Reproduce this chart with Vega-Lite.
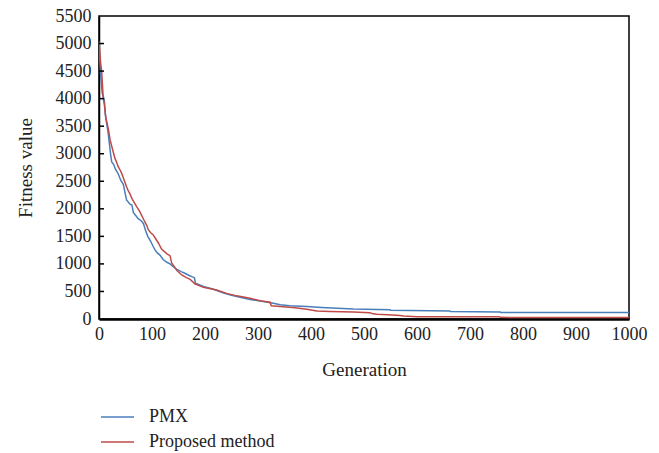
{
  "$schema": "https://vega.github.io/schema/vega-lite/v6.json",
  "width": 530,
  "height": 303,
  "autosize": {"type": "none"},
  "padding": {"left": 99, "top": 16, "right": 30, "bottom": 134},
  "background": "white",
  "config": {
    "view": {"stroke": "black", "strokeWidth": 1.5},
    "font": "Liberation Serif",
    "axis": {
      "labelOverlap": false,
      "labelBound": false,
      "labelFlush": false,
      "grid": false,
      "ticks": false,
      "format": "d",
      "domainColor": "black",
      "labelFont": "Liberation Serif",
      "labelFontSize": 18,
      "labelColor": "#222",
      "titleFont": "Liberation Serif",
      "titleFontSize": 19,
      "titleFontWeight": "normal",
      "titleColor": "#222"
    },
    "axisX": {"domainWidth": 2.5, "labelPadding": 6, "titlePadding": 17},
    "axisY": {"domainWidth": 1.5, "labelPadding": 8, "titlePadding": 20}
  },
  "layer": [
    {
      "data": {
        "values": [
          {"gen": 0, "v": 4950, "s": "PMX"},
          {"gen": 3, "v": 4450, "s": "PMX"},
          {"gen": 6, "v": 4100, "s": "PMX"},
          {"gen": 10, "v": 3980, "s": "PMX"},
          {"gen": 12, "v": 3700, "s": "PMX"},
          {"gen": 14, "v": 3580, "s": "PMX"},
          {"gen": 17, "v": 3400, "s": "PMX"},
          {"gen": 20, "v": 3150, "s": "PMX"},
          {"gen": 22, "v": 2980, "s": "PMX"},
          {"gen": 24, "v": 2850, "s": "PMX"},
          {"gen": 28, "v": 2800, "s": "PMX"},
          {"gen": 31, "v": 2720, "s": "PMX"},
          {"gen": 36, "v": 2640, "s": "PMX"},
          {"gen": 41, "v": 2520, "s": "PMX"},
          {"gen": 46, "v": 2440, "s": "PMX"},
          {"gen": 50, "v": 2250, "s": "PMX"},
          {"gen": 52, "v": 2160, "s": "PMX"},
          {"gen": 58, "v": 2090, "s": "PMX"},
          {"gen": 62, "v": 2070, "s": "PMX"},
          {"gen": 65, "v": 1930, "s": "PMX"},
          {"gen": 70, "v": 1870, "s": "PMX"},
          {"gen": 74, "v": 1820, "s": "PMX"},
          {"gen": 80, "v": 1780, "s": "PMX"},
          {"gen": 84, "v": 1730, "s": "PMX"},
          {"gen": 88, "v": 1600, "s": "PMX"},
          {"gen": 92, "v": 1500, "s": "PMX"},
          {"gen": 97, "v": 1420, "s": "PMX"},
          {"gen": 102, "v": 1320, "s": "PMX"},
          {"gen": 106, "v": 1250, "s": "PMX"},
          {"gen": 110, "v": 1200, "s": "PMX"},
          {"gen": 115, "v": 1160, "s": "PMX"},
          {"gen": 121, "v": 1080, "s": "PMX"},
          {"gen": 128, "v": 1030, "s": "PMX"},
          {"gen": 134, "v": 1000, "s": "PMX"},
          {"gen": 140, "v": 950, "s": "PMX"},
          {"gen": 147, "v": 900, "s": "PMX"},
          {"gen": 155, "v": 860, "s": "PMX"},
          {"gen": 162, "v": 830, "s": "PMX"},
          {"gen": 170, "v": 790, "s": "PMX"},
          {"gen": 175, "v": 770, "s": "PMX"},
          {"gen": 180, "v": 750, "s": "PMX"},
          {"gen": 182, "v": 650, "s": "PMX"},
          {"gen": 197, "v": 590, "s": "PMX"},
          {"gen": 216, "v": 540, "s": "PMX"},
          {"gen": 235, "v": 470, "s": "PMX"},
          {"gen": 250, "v": 430, "s": "PMX"},
          {"gen": 266, "v": 395, "s": "PMX"},
          {"gen": 285, "v": 355, "s": "PMX"},
          {"gen": 304, "v": 325, "s": "PMX"},
          {"gen": 329, "v": 285, "s": "PMX"},
          {"gen": 342, "v": 260, "s": "PMX"},
          {"gen": 360, "v": 240, "s": "PMX"},
          {"gen": 392, "v": 225, "s": "PMX"},
          {"gen": 420, "v": 210, "s": "PMX"},
          {"gen": 450, "v": 195, "s": "PMX"},
          {"gen": 480, "v": 180, "s": "PMX"},
          {"gen": 549, "v": 168, "s": "PMX"},
          {"gen": 550, "v": 157, "s": "PMX"},
          {"gen": 662, "v": 147, "s": "PMX"},
          {"gen": 663, "v": 135, "s": "PMX"},
          {"gen": 757, "v": 127, "s": "PMX"},
          {"gen": 758, "v": 120, "s": "PMX"},
          {"gen": 1000, "v": 120, "s": "PMX"},
          {"gen": 0, "v": 5040, "s": "Proposed method"},
          {"gen": 3, "v": 4650, "s": "Proposed method"},
          {"gen": 5, "v": 4500, "s": "Proposed method"},
          {"gen": 8, "v": 4000, "s": "Proposed method"},
          {"gen": 10, "v": 3900, "s": "Proposed method"},
          {"gen": 13, "v": 3650, "s": "Proposed method"},
          {"gen": 16, "v": 3520, "s": "Proposed method"},
          {"gen": 18, "v": 3430, "s": "Proposed method"},
          {"gen": 21, "v": 3250, "s": "Proposed method"},
          {"gen": 25, "v": 3100, "s": "Proposed method"},
          {"gen": 30, "v": 2920, "s": "Proposed method"},
          {"gen": 33, "v": 2850, "s": "Proposed method"},
          {"gen": 36, "v": 2770, "s": "Proposed method"},
          {"gen": 40, "v": 2700, "s": "Proposed method"},
          {"gen": 43, "v": 2640, "s": "Proposed method"},
          {"gen": 47, "v": 2530, "s": "Proposed method"},
          {"gen": 52, "v": 2400, "s": "Proposed method"},
          {"gen": 55, "v": 2330, "s": "Proposed method"},
          {"gen": 58, "v": 2280, "s": "Proposed method"},
          {"gen": 62, "v": 2190, "s": "Proposed method"},
          {"gen": 66, "v": 2120, "s": "Proposed method"},
          {"gen": 71, "v": 2040, "s": "Proposed method"},
          {"gen": 77, "v": 1950, "s": "Proposed method"},
          {"gen": 84, "v": 1810, "s": "Proposed method"},
          {"gen": 90, "v": 1700, "s": "Proposed method"},
          {"gen": 93, "v": 1620, "s": "Proposed method"},
          {"gen": 98, "v": 1560, "s": "Proposed method"},
          {"gen": 102, "v": 1530, "s": "Proposed method"},
          {"gen": 106, "v": 1470, "s": "Proposed method"},
          {"gen": 112, "v": 1380, "s": "Proposed method"},
          {"gen": 118, "v": 1270, "s": "Proposed method"},
          {"gen": 125, "v": 1210, "s": "Proposed method"},
          {"gen": 128, "v": 1180, "s": "Proposed method"},
          {"gen": 134, "v": 1150, "s": "Proposed method"},
          {"gen": 137, "v": 1020, "s": "Proposed method"},
          {"gen": 142, "v": 950, "s": "Proposed method"},
          {"gen": 147, "v": 880, "s": "Proposed method"},
          {"gen": 156, "v": 800, "s": "Proposed method"},
          {"gen": 165, "v": 750, "s": "Proposed method"},
          {"gen": 172, "v": 720, "s": "Proposed method"},
          {"gen": 181, "v": 640, "s": "Proposed method"},
          {"gen": 197, "v": 575, "s": "Proposed method"},
          {"gen": 222, "v": 525, "s": "Proposed method"},
          {"gen": 241, "v": 465, "s": "Proposed method"},
          {"gen": 260, "v": 420, "s": "Proposed method"},
          {"gen": 285, "v": 375, "s": "Proposed method"},
          {"gen": 304, "v": 330, "s": "Proposed method"},
          {"gen": 323, "v": 305, "s": "Proposed method"},
          {"gen": 325, "v": 240, "s": "Proposed method"},
          {"gen": 342, "v": 225, "s": "Proposed method"},
          {"gen": 370, "v": 205, "s": "Proposed method"},
          {"gen": 392, "v": 178, "s": "Proposed method"},
          {"gen": 411, "v": 145, "s": "Proposed method"},
          {"gen": 436, "v": 135, "s": "Proposed method"},
          {"gen": 480, "v": 125, "s": "Proposed method"},
          {"gen": 511, "v": 115, "s": "Proposed method"},
          {"gen": 515, "v": 100, "s": "Proposed method"},
          {"gen": 524, "v": 88, "s": "Proposed method"},
          {"gen": 545, "v": 75, "s": "Proposed method"},
          {"gen": 568, "v": 65, "s": "Proposed method"},
          {"gen": 575, "v": 55, "s": "Proposed method"},
          {"gen": 600, "v": 42, "s": "Proposed method"},
          {"gen": 755, "v": 40, "s": "Proposed method"},
          {"gen": 757, "v": 30, "s": "Proposed method"},
          {"gen": 775, "v": 25, "s": "Proposed method"},
          {"gen": 1000, "v": 25, "s": "Proposed method"}
        ]
      },
      "mark": {"type": "line", "strokeWidth": 1.5, "clip": true},
      "encoding": {
        "x": {
          "field": "gen",
          "type": "quantitative",
          "scale": {"domain": [0, 1000], "nice": false},
          "axis": {
            "title": "Generation",
            "values": [0, 100, 200, 300, 400, 500, 600, 700, 800, 900, 1000]
          }
        },
        "y": {
          "field": "v",
          "type": "quantitative",
          "scale": {"domain": [0, 5500], "nice": false},
          "axis": {
            "title": "Fitness value",
            "values": [0, 500, 1000, 1500, 2000, 2500, 3000, 3500, 4000, 4500, 5000, 5500]
          }
        },
        "color": {
          "field": "s",
          "type": "nominal",
          "scale": {"domain": ["PMX", "Proposed method"], "range": ["#4A7EBB", "#BE4B48"]},
          "legend": {
            "title": null,
            "orient": "none",
            "legendX": 1,
            "legendY": 391,
            "symbolType": "stroke",
            "symbolSize": 1089,
            "symbolStrokeWidth": 1.5,
            "labelFont": "Liberation Serif",
            "labelFontSize": 18,
            "labelColor": "#222",
            "labelOffset": 14,
            "rowPadding": 5,
            "clipHeight": 20
          }
        }
      }
    },
    {
      "data": {
        "values": [
          {"yt": 500}, {"yt": 1000}, {"yt": 1500}, {"yt": 2000}, {"yt": 2500},
          {"yt": 3000}, {"yt": 3500}, {"yt": 4000}, {"yt": 4500}, {"yt": 5000}
        ]
      },
      "mark": {"type": "rule", "color": "black", "strokeWidth": 1.5},
      "encoding": {
        "x": {"datum": 0, "type": "quantitative"},
        "x2": {"datum": 9.5},
        "y": {
          "field": "yt",
          "type": "quantitative",
          "axis": {
            "title": "Fitness value",
            "values": [0, 500, 1000, 1500, 2000, 2500, 3000, 3500, 4000, 4500, 5000, 5500]
          }
        }
      }
    }
  ]
}
